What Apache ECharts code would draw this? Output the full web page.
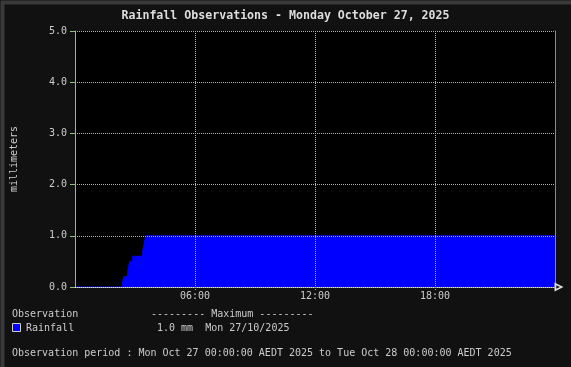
<!DOCTYPE html>
<html>
<head>
<meta charset="utf-8">
<script src="https://cdn.jsdelivr.net/npm/echarts@6/dist/echarts.min.js"></script>
<style>
html,body{margin:0;padding:0;background:#111;}
#chart{width:571px;height:367px;}
</style>
</head>
<body>
<div id="chart"></div>
<script>
// ---- data ----
var titleText = 'Rainfall Observations - Monday October 27, 2025';
var yAxisName = 'millimeters';
var obsTimes = ['00:00','02:23','02:26','02:38','02:41','02:44','02:53','03:23','03:26','03:29','03:32','24:00'];
var rainfall = [0.0, 0.1, 0.2, 0.3, 0.4, 0.5, 0.6, 0.7, 0.8, 0.9, 1.0, 1.0];
var xTickLabels = ['00:00','06:00','12:00','18:00','24:00'];
var yTicks = [0.0, 1.0, 2.0, 3.0, 4.0, 5.0];
var seriesName = 'Rainfall';
var maxDate = 'Mon 27/10/2025';
var periodText = 'Observation period : Mon Oct 27 00:00:00 AEDT 2025 to Tue Oct 28 00:00:00 AEDT 2025';

function toMin(s){var p=s.split(':');return (+p[0])*60+(+p[1]);}
function fmt(m){var h=Math.floor(m/60),mm=m%60;return (h<10?'0':'')+h+':'+(mm<10?'0':'')+mm;}
var seriesData = obsTimes.map(function(t,i){return [toMin(t), rainfall[i]];});
var maxVal = Math.max.apply(null, rainfall);

var FONT = 'DejaVu Sans Mono';
var TXT = '10px "DejaVu Sans Mono"';
var GRIDC = '#a8bc9c';
var chart = echarts.init(document.getElementById('chart'), null, {renderer:'canvas'});
chart.setOption({
  backgroundColor:'#111111',
  animation:false,
  title:{
    text:titleText, left:'center', top:10, padding:0,
    textStyle:{color:'#dddddd', fontFamily:FONT, fontSize:11.6, fontWeight:'bold'}
  },
  grid:{left:75, right:16, top:31, bottom:80, show:true, backgroundColor:'#000000', borderWidth:0},
  xAxis:{
    type:'value', min:toMin(xTickLabels[0]), max:toMin(xTickLabels[xTickLabels.length-1]), interval:360, z:3,
    axisLine:{show:true, lineStyle:{color:'#e0e0e0', type:[1,1], width:1},
      symbol:['none','path://M5,0L10,10L0,10Z M5,4L3,8L7,8Z'], symbolSize:[9,9], symbolOffset:[0,4]},
    axisTick:{show:true, length:3, lineStyle:{color:GRIDC, type:[1,1]}},
    axisLabel:{color:'#cccccc', fontFamily:FONT, fontSize:10, margin:4, showMinLabel:false, showMaxLabel:false,
      formatter:function(v){return fmt(v);}},
    splitLine:{show:true, lineStyle:{color:GRIDC, type:[1,1], width:1}}
  },
  yAxis:[{
    type:'value', min:yTicks[0], max:yTicks[yTicks.length-1], interval:1, z:3,
    name:yAxisName, nameLocation:'middle', nameGap:56, nameRotate:90,
    nameTextStyle:{color:'#cccccc', fontFamily:FONT, fontSize:10},
    axisLine:{show:true, lineStyle:{color:'#90c080', width:1}},
    axisTick:{show:true, length:5, lineStyle:{color:'#90c080'}},
    axisLabel:{color:'#cccccc', fontFamily:FONT, fontSize:10, margin:8, formatter:function(v){return v.toFixed(1);}},
    splitLine:{show:true, lineStyle:{color:GRIDC, type:[1,1], width:1}}
  },{
    type:'value', position:'right', min:yTicks[0], max:yTicks[yTicks.length-1], interval:1, z:3,
    axisLine:{show:true, lineStyle:{color:'#8c9848', width:1}},
    axisTick:{show:false}, axisLabel:{show:false}, splitLine:{show:false}
  }],
  series:[{
    name:seriesName, type:'line', step:'end', data:seriesData, symbol:'none', z:2,
    lineStyle:{color:'#0000ff', width:1},
    areaStyle:{color:'#0000ff', opacity:1}
  }],
  graphic:[
    {type:'rect', left:0, top:0, z:-10, silent:true, shape:{x:0,y:0,width:571,height:367},
      style:{fill:'none', stroke:'#3a3a3a', lineWidth:4}},
    {type:'text', left:12, top:309, style:{text:'Observation', fill:'#cccccc', font:TXT}},
    {type:'text', left:151, top:309, style:{text:'--------- Maximum ---------', fill:'#cccccc', font:TXT}},
    {type:'rect', left:12, top:323, shape:{x:0,y:0,width:8,height:8}, style:{fill:'#0000ff', stroke:'#cccccc', lineWidth:1}},
    {type:'text', left:26, top:323, style:{text:seriesName, fill:'#cccccc', font:TXT}},
    {type:'text', left:157, top:323, style:{text:maxVal.toFixed(1)+' mm  '+maxDate, fill:'#cccccc', font:TXT}},
    {type:'text', left:12, top:348, style:{text:periodText, fill:'#cccccc', font:TXT}}
  ]
});
</script>
</body>
</html>
